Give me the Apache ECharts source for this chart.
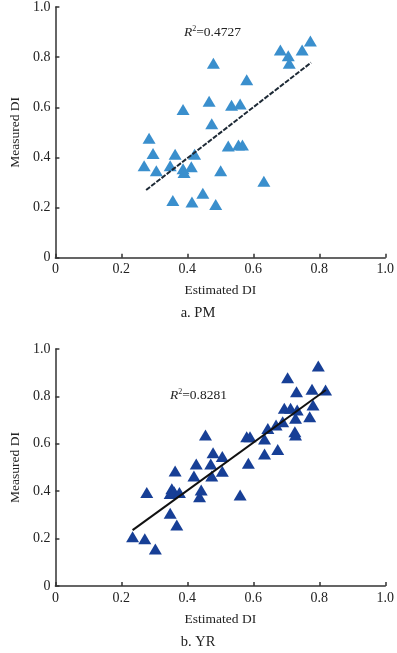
<!DOCTYPE html>
<html>
<head>
<meta charset="utf-8">
<script src="https://cdn.jsdelivr.net/npm/echarts@6/dist/echarts.min.js"></script>
<style>
  html, body { margin: 0; padding: 0; background: #fff; }
  #chart { width: 397px; height: 653px; }
</style>
</head>
<body>
<div id="chart"></div>
<script>
// axis ticks shared by both panels
const tickValues = [0, 0.2, 0.4, 0.6, 0.8, 1.0];

// a. PM  (estimated DI, measured DI)
const pmPoints = [
  [0.269, 0.367], [0.284, 0.476], [0.296, 0.416], [0.306, 0.347],
  [0.348, 0.367], [0.363, 0.413], [0.387, 0.355], [0.390, 0.340],
  [0.387, 0.591], [0.412, 0.363], [0.422, 0.413], [0.356, 0.228],
  [0.414, 0.222], [0.447, 0.257], [0.486, 0.212], [0.501, 0.347],
  [0.466, 0.624], [0.474, 0.534], [0.479, 0.776], [0.524, 0.446],
  [0.534, 0.608], [0.560, 0.613], [0.555, 0.450], [0.567, 0.450],
  [0.580, 0.710], [0.632, 0.305], [0.682, 0.828], [0.706, 0.806],
  [0.709, 0.776], [0.748, 0.828], [0.773, 0.864]
];
const pmFit = [[0.275, 0.270], [0.775, 0.778]];
const pmR2 = "0.4727";

// b. YR
const yrPoints = [
  [0.234, 0.208], [0.271, 0.199], [0.303, 0.156], [0.277, 0.394],
  [0.348, 0.307], [0.368, 0.257], [0.363, 0.485], [0.353, 0.410],
  [0.348, 0.390], [0.360, 0.398], [0.376, 0.394], [0.420, 0.464],
  [0.427, 0.515], [0.437, 0.377], [0.442, 0.405], [0.455, 0.637],
  [0.471, 0.515], [0.474, 0.464], [0.478, 0.562], [0.506, 0.546],
  [0.506, 0.484], [0.560, 0.384], [0.585, 0.518], [0.580, 0.630],
  [0.590, 0.630], [0.634, 0.620], [0.634, 0.557], [0.644, 0.665],
  [0.669, 0.679], [0.674, 0.576], [0.689, 0.693], [0.694, 0.750],
  [0.704, 0.879], [0.713, 0.750], [0.726, 0.651], [0.728, 0.637],
  [0.728, 0.708], [0.731, 0.820], [0.733, 0.743], [0.771, 0.714],
  [0.778, 0.830], [0.781, 0.764], [0.797, 0.928], [0.819, 0.827]
];
const yrFit = [[0.234, 0.236], [0.820, 0.827]];
const yrR2 = "0.8281";

const xName = "Estimated DI";
const yName = "Measured DI";
const captions = ["a. PM", "b. YR"];

const serif = "Liberation Serif";
const axisColor = "#333";
const textColor = "#222";

function makeAxis(idx, name, isX) {
  return {
    type: "value",
    gridIndex: idx,
    min: 0,
    max: 1,
    interval: 0.2,
    name: name,
    nameLocation: "middle",
    nameGap: isX ? 26 : 31,
    nameTextStyle: { fontFamily: serif, fontSize: 13.5, color: textColor },
    axisLine: { show: true, lineStyle: { color: axisColor, width: 1.5 } },
    axisTick: { show: true, inside: true, length: 4, lineStyle: { color: axisColor, width: 1.5 } },
    axisLabel: {
      fontFamily: serif,
      fontSize: 14,
      color: textColor,
      margin: isX ? 5 : 5,
      formatter: (v) => (v === 0 ? "0" : v.toFixed(1))
    },
    splitLine: { show: false }
  };
}

const chart = echarts.init(document.getElementById("chart"), null, { renderer: "canvas" });

const r2Rich = {
  r: { fontFamily: serif, fontStyle: "italic", fontSize: 13.5, fill: textColor },
  s: { fontFamily: serif, fontSize: 8, fill: textColor, verticalAlign: "top", padding: [0, 0, 6, 0] },
  v: { fontFamily: serif, fontSize: 13.5, fill: textColor }
};

const option = {
  backgroundColor: "#fff",
  animation: false,
  grid: [
    { left: 49.3, right: 10.3, top: 4.5, height: 253.2 },
    { left: 49.3, right: 10.3, top: 349, height: 237 }
  ],
  xAxis: [makeAxis(0, xName, true), makeAxis(1, xName, true)],
  yAxis: [makeAxis(0, yName, false), makeAxis(1, yName, false)],
  series: [
    {
      type: "scatter", xAxisIndex: 0, yAxisIndex: 0,
      data: pmPoints, symbol: "triangle", symbolSize: [13, 11],
      itemStyle: { color: "#3a8fcd", opacity: 1 }
    },
    {
      type: "line", xAxisIndex: 0, yAxisIndex: 0,
      data: pmFit, symbol: "none",
      lineStyle: { color: "#1e2a36", width: 2, type: [5, 1.5] }
    },
    {
      type: "scatter", xAxisIndex: 1, yAxisIndex: 1,
      data: yrPoints, symbol: "triangle", symbolSize: [13, 11],
      itemStyle: { color: "#173f96", opacity: 1 }
    },
    {
      type: "line", xAxisIndex: 1, yAxisIndex: 1,
      data: yrFit, symbol: "none",
      lineStyle: { color: "#111", width: 2 }
    }
  ],
  graphic: [
    {
      type: "text", left: 184, top: 25,
      style: { text: "{r|R}{s|2}{v|=" + pmR2 + "}", rich: r2Rich }
    },
    {
      type: "text", left: 170, top: 388,
      style: { text: "{r|R}{s|2}{v|=" + yrR2 + "}", rich: r2Rich }
    },
    {
      type: "text", x: 198, y: 313,
      style: { text: captions[0], fontFamily: serif, fontSize: 14.5, fill: textColor, align: "center", verticalAlign: "middle" }
    },
    {
      type: "text", x: 198, y: 642,
      style: { text: captions[1], fontFamily: serif, fontSize: 14.5, fill: textColor, align: "center", verticalAlign: "middle" }
    }
  ]
};

chart.setOption(option);
</script>
</body>
</html>
